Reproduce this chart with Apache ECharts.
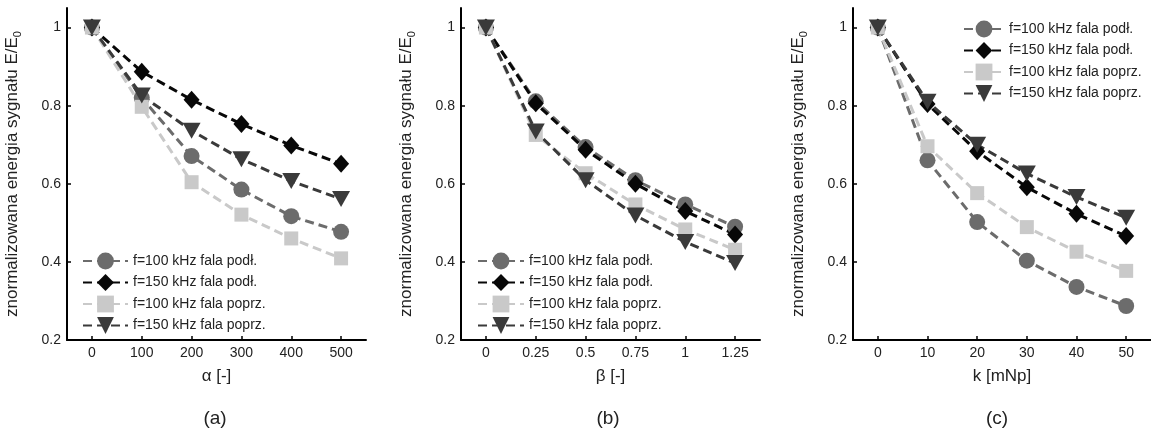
<!DOCTYPE html>
<html>
<head>
<meta charset="utf-8">
<script src="https://cdn.jsdelivr.net/npm/echarts@6.0.0/dist/echarts.min.js"></script>
<style>html,body{margin:0;padding:0;background:#fff;}#c{width:1151px;height:434px;}</style>
</head>
<body>
<div id="c"></div>
<script>
// ---- data ----
const seriesNames = ['f=100 kHz fala podł.', 'f=150 kHz fala podł.', 'f=100 kHz fala poprz.', 'f=150 kHz fala poprz.'];
const alphaX = [0, 100, 200, 300, 400, 500];
const betaX = [0, 0.25, 0.5, 0.75, 1, 1.25];
const kX = [0, 10, 20, 30, 40, 50];
const yTicks = [0.2, 0.4, 0.6, 0.8, 1];

// panel (a)
const a_f100_podl = [1, 0.82, 0.671, 0.585, 0.517, 0.477];
const a_f150_podl = [1, 0.887, 0.815, 0.753, 0.698, 0.651];
const a_f100_poprz = [1, 0.797, 0.604, 0.521, 0.46, 0.409];
const a_f150_poprz = [1, 0.826, 0.736, 0.663, 0.607, 0.561];
// panel (b)
const b_f100_podl = [1, 0.811, 0.694, 0.609, 0.547, 0.49];
const b_f150_podl = [1, 0.806, 0.687, 0.6, 0.53, 0.47];
const b_f100_poprz = [1, 0.725, 0.627, 0.547, 0.483, 0.431];
const b_f150_poprz = [1, 0.734, 0.609, 0.519, 0.451, 0.397];
// panel (c)
const c_f100_podl = [1, 0.66, 0.502, 0.403, 0.336, 0.287];
const c_f150_podl = [1, 0.804, 0.683, 0.591, 0.523, 0.466];
const c_f100_poprz = [1, 0.696, 0.576, 0.489, 0.426, 0.377];
const c_f150_poprz = [1, 0.81, 0.7, 0.626, 0.566, 0.513];

const xLabels = ['α [-]', 'β [-]', 'k [mNp]'];
const captions = ['(a)', '(b)', '(c)'];

// ---- styles ----
const FONT = '"Liberation Sans", Arial, sans-serif';
const styles = [
  {color: '#6c6c6c', symbol: 'circle', symbolSize: 16},
  {color: '#080808', symbol: 'diamond', symbolSize: [16, 18]},
  {color: '#c9c9c9', symbol: 'rect', symbolSize: 14},
  {color: '#3a3a3a', symbol: 'path://M0,0 L10,0 L5,9 Z', symbolSize: [18, 16]}
];

const grids = [
  {left: 67, top: 8, width: 299, height: 332},
  {left: 461, top: 8, width: 299, height: 332},
  {left: 853, top: 8, width: 298, height: 332}
];
const xRanges = [[-50, 550, alphaX], [-0.125, 1.375, betaX], [-5, 55, kX]];
const panelData = [
  [alphaX, [a_f100_podl, a_f150_podl, a_f100_poprz, a_f150_poprz]],
  [betaX, [b_f100_podl, b_f150_podl, b_f100_poprz, b_f150_poprz]],
  [kX, [c_f100_podl, c_f150_podl, c_f100_poprz, c_f150_poprz]]
];

const axisLineStyle = {show: true, lineStyle: {color: '#000', width: 2}};
const xAxes = xRanges.map((r, i) => ({
  type: 'value', gridIndex: i, min: r[0], max: r[1],
  axisLine: Object.assign({onZero: false}, axisLineStyle),
  axisTick: {show: true, inside: true, length: 4, customValues: r[2], lineStyle: {color: '#000', width: 1.5}},
  axisLabel: {customValues: r[2], margin: 6, fontSize: 14, color: '#222', fontFamily: FONT},
  splitLine: {show: false},
  name: xLabels[i], nameLocation: 'middle', nameGap: 28,
  nameTextStyle: {fontSize: 17, color: '#222', fontFamily: FONT}
}));
const yAxes = grids.map((g, i) => ({
  type: 'value', gridIndex: i, min: 0.2, max: 1.05,
  axisLine: Object.assign({onZero: false}, axisLineStyle),
  axisTick: {show: true, inside: true, length: 4, customValues: yTicks, lineStyle: {color: '#000', width: 1.5}},
  axisLabel: {customValues: yTicks, margin: 6, fontSize: 14, color: '#222', fontFamily: FONT,
    formatter: v => (Math.abs(v - 1) < 1e-9 ? '1' : v.toFixed(1))},
  splitLine: {show: false},
  name: 'znormalizowana energia sygnału E/E{s|0}', nameLocation: 'middle', nameRotate: 90, nameGap: 44,
  nameTextStyle: {fontSize: 17, color: '#222', fontFamily: FONT, lineHeight: 22,
    rich: {s: {fontSize: 11, lineHeight: 11, verticalAlign: 'bottom', color: '#222', fontFamily: FONT}}}
}));

const series = [];
panelData.forEach((pd, gi) => {
  const xs = pd[0];
  pd[1].forEach((vals, si) => {
    const st = styles[si];
    series.push({
      type: 'line', name: seriesNames[si], xAxisIndex: gi, yAxisIndex: gi,
      data: xs.map((x, k) => [x, vals[k]]),
      symbol: st.symbol, symbolSize: st.symbolSize, showAllSymbol: true,
      lineStyle: {color: st.color, width: 3, type: [9, 5]},
      itemStyle: {color: st.color},
      emphasis: {disabled: true}, animation: false
    });
  });
});

const legendBase = {
  data: seriesNames, orient: 'vertical', padding: 0, itemHeight: 21, itemGap: 3.5,
  textStyle: {fontSize: 14, color: '#222', fontFamily: FONT, lineHeight: 18},
  selectedMode: false
};
const legends = [
  Object.assign({}, legendBase, {left: 82, top: 252, itemWidth: 45}),
  Object.assign({}, legendBase, {left: 477, top: 252, itemWidth: 46}),
  Object.assign({}, legendBase, {left: 963, top: 20, itemWidth: 40})
];

const captionX = [215, 608, 997];
const graphic = captions.map((c, i) => ({
  type: 'text', x: captionX[i], y: 419,
  style: {text: c, fill: '#222', font: '19px ' + FONT, textAlign: 'center', textVerticalAlign: 'middle'}
}));

const chart = echarts.init(document.getElementById('c'), null, {renderer: 'canvas'});
chart.setOption({
  animation: false,
  backgroundColor: '#fff',
  grid: grids,
  xAxis: xAxes,
  yAxis: yAxes,
  legend: legends,
  series: series,
  graphic: graphic
});
</script>
</body>
</html>
